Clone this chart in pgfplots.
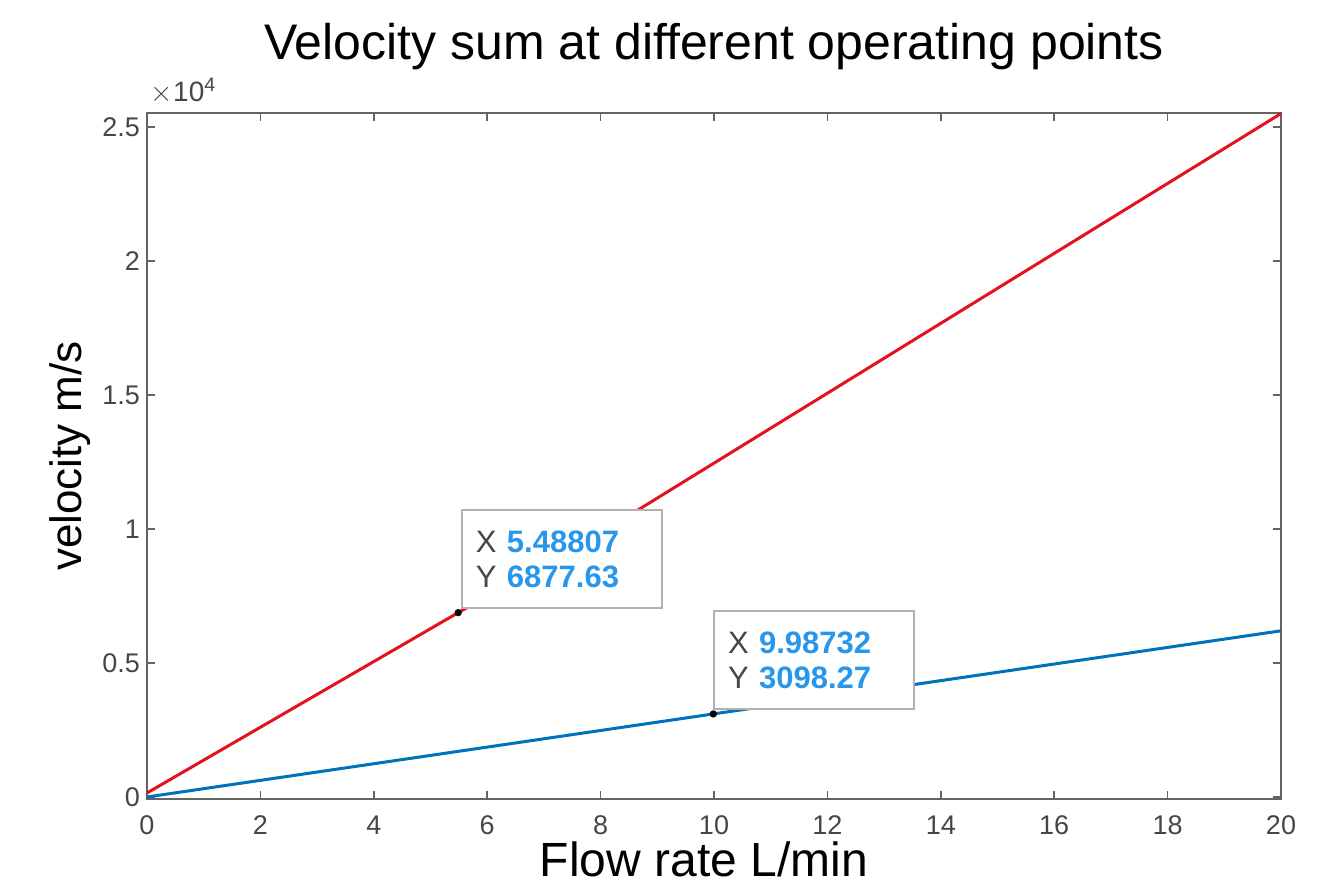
\documentclass[border=0pt]{standalone}
\usepackage{pgfplots}
\pgfplotsset{compat=1.18}
\usepackage{fontspec}
\setmainfont{Liberation Sans}

\definecolor{axgray}{RGB}{100,100,100}
\definecolor{labgray}{RGB}{70,70,70}
\definecolor{mred}{RGB}{228,18,30}
\definecolor{mblue}{RGB}{0,114,189}
\definecolor{tipblue}{RGB}{40,150,235}

\begin{document}
\begin{tikzpicture}
\useasboundingbox (-73.5pt,-44.5pt) rectangle (597.5pt,399.5pt);
\begin{axis}[
    at={(0,0)}, anchor=south west,
    scale only axis,
    width=567pt, height=343pt,
    xmin=0, xmax=20,
    ymin=-75, ymax=25520,
    xtick={0,2,...,20},
    ytick={0,5000,10000,15000,20000,25000},
    yticklabels={0,0.5,1,1.5,2,2.5},
    scaled y ticks=false,
    tick align=inside,
    major tick length=4pt,
    xtick pos=both, ytick pos=both,
    axis line style={axgray, line width=0.9pt},
    every tick/.style={axgray, line width=0.8pt},
    tick label style={font=\fontsize{13.5}{16}\selectfont, text=labgray},
    /pgf/number format/assume math mode=true,
    xticklabel style={yshift=-5pt},
    yticklabel style={xshift=0pt},
    title={Velocity sum at different operating points},
    title style={font=\fontsize{25}{29}\selectfont, at={(0.5,1)}, anchor=center, yshift=27pt},
    xlabel={Flow rate L/min},
    xlabel style={font=\fontsize{24}{28}\selectfont, at={(0.5,0)}, anchor=center, yshift=-30pt, xshift=-5pt},
    ylabel={velocity m/s},
    ylabel style={font=\fontsize{22}{26}\selectfont, at={(0,0.5)}, anchor=center, yshift=38.5pt},
    clip=false,
]
\addplot[mred, line width=1.5pt] coordinates {
    (0,150) (5.48807,6877.63) (8.5,10500) (20,25500)
};
\addplot[mblue, line width=1.5pt] coordinates {
    (0,0) (9.98732,3098.27) (20,6200)
};
\addplot[only marks, mark=*, mark size=1.6pt, black] coordinates {
    (5.48807,6877.63) (9.98732,3098.27)
};
\node[anchor=south west, font=\fontsize{14}{16}\selectfont, text=labgray, inner sep=0pt]
    at (rel axis cs:0.003,1.012) {$\times$10\textsuperscript{4}};
\node[anchor=south west, draw=gray!60, line width=0.8pt, fill=white, align=left,
      text width=86pt, minimum height=49pt, inner sep=7pt,
      font=\fontsize{15.5}{17.5}\selectfont, xshift=1.5pt, yshift=2pt]
    at (axis cs:5.48807,6877.63)
    {\textcolor{labgray}{X} \textcolor{tipblue}{\textbf{5.48807}}\\\textcolor{labgray}{Y} \textcolor{tipblue}{\textbf{6877.63}}};
\node[anchor=south west, draw=gray!60, line width=0.8pt, fill=white, align=left,
      text width=86pt, minimum height=49pt, inner sep=7pt,
      font=\fontsize{15.5}{17.5}\selectfont, xshift=0pt, yshift=2pt]
    at (axis cs:9.98732,3098.27)
    {\textcolor{labgray}{X} \textcolor{tipblue}{\textbf{9.98732}}\\\textcolor{labgray}{Y} \textcolor{tipblue}{\textbf{3098.27}}};
\end{axis}
\end{tikzpicture}
\end{document}
